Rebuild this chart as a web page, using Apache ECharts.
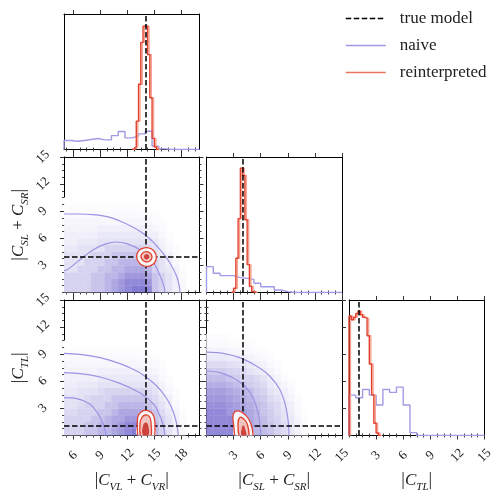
<!DOCTYPE html>
<html><head><meta charset="utf-8">
<script src="https://cdn.jsdelivr.net/npm/echarts@6/dist/echarts.min.js"></script>
<style>html,body{margin:0;padding:0;background:#fff}#c{width:495px;height:492px}</style>
</head><body><div id="c"></div><script>
// ---------------- DATA ----------------
const TRUE_CVL = 14, TRUE_CSL = 4, TRUE_CTL = 1.1;
const X_RANGE_CVL = [5, 20], X_RANGE_CSL = [0, 15], X_RANGE_CTL = [0, 15];
const TICKS_CVL = [6, 9, 12, 15, 18];
const TICKS_CSL = [3, 6, 9, 12, 15];
const TICKS_CTL = [3, 6, 9, 12, 15];
const HIST_MAX = 110;

// 1D histograms (bin start, bin width, heights)
const naiveCVL_start = 5, naiveCVL_w = 0.75;
const naiveCVL = [7.3,6.7,7.3,8.1,8.9,7.8,7.8,11.3,14.6,9.4,10.8,12.7,14.8,2.7,0.5,0,0,0,0,0];
const reintCVL_start = 12.5, reintCVL_w = 0.25;
const reintCVL = [0.5,2,23,53,87,100,100,77,42,9,2,0];

const naiveCSL_start = 0, naiveCSL_w = 0.75;
const naiveCSL = [21,15.6,13.7,13.7,12.1,11.5,10.7,7.5,4.7,4.7,2,0.7,0,0,0,0,0,0,0,0];
const reintCSL_start = 2.75, reintCSL_w = 0.25;
const reintCSL = [0.7,3.4,27.8,60,101,95,59,22.6,5,0.7,0];

const naiveCTL_start = 0, naiveCTL_w = 0.75;
const naiveCTL = [32.8,30.7,37.4,32.8,24.7,37.4,35,39.3,24.7,2.3,0,0,0,0,0,0,0,0,0,0];
const reintCTL_start = 0, reintCTL_w = 0.25;
const reintCTL = [97,94,96,99,101,98,96,95,81,58,33,10,2,0];

// 2D naive density (rows from bottom, bins of 0.75)
const densA_w = 0.75; // CVL (x from 5) vs CSL (y from 0)
const densA = [
 [3,3,3,3,4,4,5,6,7,8,9,9,8,4,3,2,1,0.5,0,0],
 [3,3,3,3,4,4,5,6,7,8,8,8,7,4,3,2,1,0.5,0,0],
 [3,3,3,3,4,4,5,5,6,7,7,7,6,4,3,2,1,0.3,0,0],
 [2,2,3,3,3,4,4,5,5,6,6,6,5,3,2,1.5,0.8,0.2,0,0],
 [2,2,2,3,3,3,4,4,5,5,5,5,4,3,2,1,0.5,0,0,0],
 [2,2,2,2,3,3,3,4,4,4,4,4,3,2,1.5,1,0.3,0,0,0],
 [1.5,1.5,2,2,2,2,3,3,3,3,3,3,2.5,2,1,0.5,0.2,0,0,0],
 [1,1,1.5,1.5,1.5,2,2,2,2,2,2,2,2,1.5,0.8,0.3,0,0,0,0],
 [1,1,1,1,1,1.5,1.5,1.5,1.5,1.5,1.5,1.5,1,1,0.5,0.2,0,0,0,0],
 [0.8,0.8,0.8,0.8,0.8,1,1,1,1,1,1,1,0.8,0.6,0.3,0,0,0,0,0],
 [0.6,0.6,0.6,0.6,0.6,0.6,0.6,0.6,0.6,0.6,0.6,0.6,0.5,0.3,0.2,0,0,0,0,0],
 [0.4,0.4,0.4,0.4,0.4,0.4,0.4,0.4,0.4,0.4,0.4,0.3,0.3,0.2,0,0,0,0,0,0],
 [0.2,0.2,0.2,0.2,0.2,0.2,0.2,0.2,0.2,0.2,0.2,0.2,0.1,0.1,0,0,0,0,0,0],
 [0.1,0.1,0.1,0.1,0.1,0.1,0.1,0.1,0.1,0.1,0.1,0.1,0,0,0,0,0,0,0,0]
];
const densB = [ // CVL (x from 5) vs CTL (y from 0)
 [3,3,3,4,4,5,5,6,7,8,9,9,8,5,3,2,1,0.5,0,0],
 [3,3,3,4,4,5,5,6,7,8,8,8,7,5,3,2,1,0.5,0,0],
 [3,3,3,3,4,4,5,6,6,7,7,7,6,4,3,2,1,0.3,0,0],
 [2.5,2.5,3,3,3,4,4,5,6,6,6,6,5,4,2.5,1.5,0.8,0.2,0,0],
 [2,2,2.5,3,3,3,4,4,5,5,5,5,4,3,2,1,0.5,0,0,0],
 [2,2,2,2.5,3,3,3,4,4,4,4,4,3,2.5,1.5,1,0.3,0,0,0],
 [1.5,1.5,2,2,2,2.5,3,3,3,3,3,3,2.5,2,1,0.5,0.2,0,0,0],
 [1.2,1.2,1.5,1.5,1.5,2,2,2,2,2,2,2,2,1.5,0.8,0.3,0,0,0,0],
 [1,1,1,1,1,1.5,1.5,1.5,1.5,1.5,1.5,1.5,1,1,0.5,0.2,0,0,0,0],
 [0.8,0.8,0.8,0.8,0.8,1,1,1,1,1,1,1,0.8,0.6,0.3,0,0,0,0,0],
 [0.6,0.6,0.6,0.6,0.6,0.6,0.6,0.6,0.6,0.6,0.6,0.6,0.5,0.3,0.2,0,0,0,0,0],
 [0.4,0.4,0.4,0.4,0.4,0.4,0.4,0.4,0.4,0.4,0.4,0.3,0.3,0.2,0,0,0,0,0,0],
 [0.2,0.2,0.2,0.2,0.2,0.2,0.2,0.2,0.2,0.2,0.2,0.2,0.1,0.1,0,0,0,0,0,0],
 [0.1,0.1,0.1,0.1,0.1,0.1,0.1,0.1,0.1,0.1,0.1,0.1,0,0,0,0,0,0,0,0]
];
const densC = [ // CSL (x from 0) vs CTL (y from 0)
 [8,8,8,8,7,7,6,5,4.5,4,3,2.5,1.5,0.8,0.3,0,0,0,0,0],
 [8,8,8,8,7,7,6,5,4.5,4,3,2.5,1.5,0.8,0.3,0,0,0,0,0],
 [8,8,8,8,7,7,6,5,4.5,3.5,3,2,1.5,0.7,0.2,0,0,0,0,0],
 [8,8,8,7,7,6.5,6,5,4,3.5,2.5,2,1.2,0.5,0.1,0,0,0,0,0],
 [7.5,7.5,7.5,7,6.5,6,5.5,4.5,4,3,2.5,1.5,1,0.4,0,0,0,0,0,0],
 [7,7,7,6.5,6,5.5,5,4,3.5,2.5,2,1.2,0.7,0.2,0,0,0,0,0,0],
 [6.5,6.5,6.5,6,5.5,5,4.5,3.5,3,2,1.5,1,0.5,0.1,0,0,0,0,0,0],
 [5.5,5.5,5.5,5,4.5,4,3.5,3,2.5,1.5,1,0.6,0.2,0,0,0,0,0,0,0],
 [4.5,4.5,4.5,4,3.5,3,3,2.5,2,1.2,0.7,0.3,0.1,0,0,0,0,0,0,0],
 [3.5,3.5,3.5,3,2.8,2.5,2,1.5,1.2,0.8,0.4,0.1,0,0,0,0,0,0,0,0],
 [2.5,2.5,2.5,2.2,2,1.8,1.5,1,0.8,0.4,0.2,0,0,0,0,0,0,0,0,0],
 [1.5,1.5,1.5,1.3,1.2,1,0.8,0.6,0.4,0.2,0,0,0,0,0,0,0,0,0,0],
 [0.8,0.8,0.8,0.7,0.6,0.5,0.4,0.3,0.2,0.1,0,0,0,0,0,0,0,0,0,0],
 [0.4,0.4,0.4,0.3,0.3,0.2,0.2,0.1,0,0,0,0,0,0,0,0,0,0,0,0],
 [0.2,0.2,0.2,0.1,0.1,0.1,0,0,0,0,0,0,0,0,0,0,0,0,0,0]
];

// naive contour lines (x, y)
const naiveContA = [
 [[5,8.69],[6.4,8.69],[8.25,8.62],[10.09,8.32],[11.94,7.58],[13.41,6.77],[14.52,5.92],[15.63,4.74],[16.73,3.27],[17.47,1.79],[17.77,0.68],[17.84,0]],
 [[5,2.45],[5.37,2.53],[6.77,3.63],[8.25,4.74],[9.72,5.41],[10.83,5.59],[11.94,5.41],[13.41,4.74],[14.52,3.81],[15.26,2.71],[15.81,1.42],[16.07,0.68],[16.18,0]]
];
const naiveContB = [
 [[5,9.1],[6.77,8.99],[8.99,8.62],[11.2,7.95],[13.04,7.14],[14.08,6.48],[15.26,5.48],[16.18,4.37],[16.92,3.08],[17.4,1.61],[17.66,0]],
 [[5,6.96],[6.77,6.85],[8.99,6.48],[11.2,5.77],[13.04,4.93],[14.15,4.19],[15.07,3.27],[15.63,2.16],[16.0,1.05],[16.18,0]],
 [[5,4.19],[6.4,4.08],[7.88,3.45],[8.8,2.34],[9.35,1.23],[9.65,0]]
];
const naiveContC = [
 [[0,9.24],[1.83,9.1],[3.67,8.62],[5.52,7.69],[6.99,6.59],[8.1,5.11],[8.76,3.26],[9.06,1.42],[9.13,0]],
 [[0,7.14],[1.46,6.96],[2.93,6.4],[4.22,5.48],[5.15,4.19],[5.7,2.53],[5.96,1.05],[6.0,0]]
];

// reinterpreted contours (outer, inner, core)
const reintContA = [
 [[13.04,3.93],[13.22,4.56],[13.71,4.89],[14.22,4.96],[14.82,4.74],[15.18,4.19],[15.18,3.63],[14.89,3.15],[14.34,2.9],[13.78,2.97],[13.34,3.27]],
 [[13.52,4.0],[13.71,4.37],[14.08,4.52],[14.52,4.37],[14.74,4.0],[14.59,3.56],[14.22,3.38],[13.78,3.52]],
 [[13.85,3.95],[14.0,4.2],[14.3,4.22],[14.45,3.95],[14.3,3.7],[14.0,3.72]]
];
const reintContB = [
 [[13.15,0],[13.12,1.42],[13.23,2.23],[13.6,2.64],[14.08,2.79],[14.59,2.6],[14.96,2.09],[15.07,1.05],[15.04,0]],
 [[13.45,0],[13.41,1.24],[13.6,1.97],[14.0,2.27],[14.45,2.09],[14.63,1.42],[14.67,0]],
 [[13.75,0],[13.75,1.1],[14.08,1.45],[14.33,1.1],[14.33,0]]
];
const reintContC = [
 [[3.12,0],[3.01,1.05],[2.93,2.16],[3.12,2.6],[3.6,2.71],[4.23,2.34],[4.78,1.61],[5.07,0.68],[5.15,0]],
 [[3.6,0],[3.49,1.24],[3.67,1.97],[4.11,1.86],[4.52,1.24],[4.71,0]],
 [[3.9,0],[3.9,0.8],[4.11,1.1],[4.3,0.65],[4.38,0]]
];

const LEGEND_NAMES = ['true model', 'naive', 'reinterpreted'];

// ---------------- STYLE / LAYOUT ----------------
const COL_X = [64, 206.5, 349], ROW_Y = [14, 157, 300], SIZE = 135.5;
const FONT = 'Liberation Serif';
const NAIVE_LINE = '#9a95e3', NAIVE_HIST = '#a09be6';
const RED = '#e2412d', RED_LIGHT = '#f5a394';
const CELLS = [
  {r:0,c:0},{r:1,c:0},{r:1,c:1},{r:2,c:0},{r:2,c:1},{r:2,c:2}
];
const X_RANGES = [X_RANGE_CVL, X_RANGE_CSL, X_RANGE_CTL];
const X_TICKS = [TICKS_CVL, TICKS_CSL, TICKS_CTL];
const Y_RANGES = [null, X_RANGE_CSL, X_RANGE_CTL];
const Y_TICKS = [null, TICKS_CSL, TICKS_CTL];

function minorOf(majors, lo, hi) {
  const step = (majors[1] - majors[0]) / 4, out = [];
  for (let k = Math.ceil(lo / step - 1e-9); k * step <= hi + 1e-9; k++) {
    const v = +(k * step).toFixed(6);
    if (!majors.some(m => Math.abs(m - v) < 1e-6)) out.push(v);
  }
  return out;
}
function sub(a, b) { return '{c|C}{s|' + a + '}' + (b ? '{o| + }{c|C}{s|' + b + '}' : ''); }
const NAMES = ['{a||}' + sub('VL','VR') + '{a||}', '{a||}' + sub('SL','SR') + '{a||}', '{a||}' + sub('TL') + '{a||}'];
const nameStyle = {
  fontFamily: FONT, fontSize: 17, color: '#222',
  rich: {
    a: {fontFamily: FONT, fontSize: 18, color: '#222', padding: [0,0,3,0]},
    c: {fontFamily: FONT, fontSize: 17, fontStyle: 'italic', color: '#222', padding: [0,0,3,0]},
    o: {fontFamily: FONT, fontSize: 17, color: '#222', padding: [0,0,3,0]},
    s: {fontFamily: FONT, fontSize: 11, fontStyle: 'italic', color: '#222', verticalAlign: 'bottom'}
  }
};

const xAxis = [], yAxis = [];
CELLS.forEach((cell, g) => {
  const isHist = cell.r === cell.c;
  const xr = X_RANGES[cell.c], xt = X_TICKS[cell.c], xm = minorOf(xt, xr[0], xr[1]);
  const showXLab = cell.r === 2;
  const base = {type: 'value', gridIndex: g, min: xr[0], max: xr[1], splitLine: {show: false}};
  const line = {show: true, onZero: false, lineStyle: {color: '#000', width: 1}};
  xAxis.push(Object.assign({}, base, {position: 'bottom', axisLine: line,
    axisTick: {show: true, customValues: xt, length: 4, lineStyle: {color: '#333'}},
    axisLabel: {show: showXLab, customValues: xt, rotate: 45, align: 'center', verticalAlign: 'middle', margin: 20,
      fontFamily: FONT, fontSize: 13, color: '#222', formatter: v => String(v)},
    name: showXLab ? NAMES[cell.c] : '', nameLocation: 'middle', nameGap: 36, nameTextStyle: nameStyle}));
  xAxis.push(Object.assign({}, base, {position: 'top', axisLine: line,
    axisTick: {show: true, customValues: xt, length: 4, lineStyle: {color: '#333'}}, axisLabel: {show: false}}));
  xAxis.push(Object.assign({}, base, {position: 'bottom', axisLine: {show: false},
    axisTick: {show: true, customValues: xm, length: 2, lineStyle: {color: '#444'}}, axisLabel: {show: false}}));
  xAxis.push(Object.assign({}, base, {position: 'top', axisLine: {show: false},
    axisTick: {show: true, customValues: xm, length: 2, lineStyle: {color: '#444'}}, axisLabel: {show: false}}));

  if (isHist) {
    const yb = {type: 'value', gridIndex: g, min: 0, max: HIST_MAX, splitLine: {show: false}, axisTick: {show: false}, axisLabel: {show: false}};
    yAxis.push(Object.assign({}, yb, {position: 'left', axisLine: line}));
    yAxis.push(Object.assign({}, yb, {position: 'right', axisLine: line}));
    yAxis.push(Object.assign({}, yb, {position: 'left', show: false}));
    yAxis.push(Object.assign({}, yb, {position: 'right', show: false}));
  } else {
    const yr = Y_RANGES[cell.r], yt = Y_TICKS[cell.r], ym = minorOf(yt, yr[0], yr[1]);
    const showY = cell.c === 0;
    const yb = {type: 'value', gridIndex: g, min: yr[0], max: yr[1], splitLine: {show: false}};
    yAxis.push(Object.assign({}, yb, {position: 'left', axisLine: line,
      axisTick: {show: true, customValues: yt, length: 4, lineStyle: {color: '#333'}},
      axisLabel: {show: showY, customValues: yt, rotate: 45, align: 'center', verticalAlign: 'middle', margin: 21,
        fontFamily: FONT, fontSize: 13, color: '#222', formatter: v => String(v)},
      name: showY ? NAMES[cell.r] : '', nameLocation: 'middle', nameGap: 33, nameRotate: 90, nameTextStyle: nameStyle}));
    yAxis.push(Object.assign({}, yb, {position: 'right', axisLine: line,
      axisTick: {show: true, customValues: yt, length: 4, lineStyle: {color: '#333'}}, axisLabel: {show: false}}));
    yAxis.push(Object.assign({}, yb, {position: 'left', axisLine: {show: false},
      axisTick: {show: true, customValues: ym, length: 2, lineStyle: {color: '#444'}}, axisLabel: {show: false}}));
    yAxis.push(Object.assign({}, yb, {position: 'right', axisLine: {show: false},
      axisTick: {show: true, customValues: ym, length: 2, lineStyle: {color: '#444'}}, axisLabel: {show: false}}));
  }
});

function stepPts(start, w, vals) {
  const pts = [[start, 0]];
  vals.forEach((v, k) => pts.push([+(start + k * w).toFixed(4), v]));
  pts.push([+(start + vals.length * w).toFixed(4), 0]);
  return pts;
}
function histSeries(g, name, start, w, vals, color, extra) {
  return {type: 'line', name, xAxisIndex: 4 * g, yAxisIndex: 4 * g, data: stepPts(start, w, vals),
    step: 'end', symbol: 'none', showSymbol: false, clip: true, z: 4,
    itemStyle: {color}, lineStyle: Object.assign({color, width: 1.4}, extra || {})};
}
function densColor(v) {
  const t = Math.min(v / 10, 1);
  const r = Math.round(255 - t * (255 - 118)), gg = Math.round(255 - t * (255 - 108)), b = Math.round(255 - t * (255 - 206));
  return 'rgb(' + r + ',' + gg + ',' + b + ')';
}
function densSeries(g, rows, x0, y0, w) {
  const data = [];
  rows.forEach((row, j) => row.forEach((v, i) => { if (v > 0) data.push([x0 + i * w, y0 + j * w, v]); }));
  return {type: 'custom', name: 'naive density', xAxisIndex: 4 * g, yAxisIndex: 4 * g, data, z: 1, silent: true, clip: true,
    renderItem(params, api) {
      const x = api.value(0), y = api.value(1), v = api.value(2);
      const p1 = api.coord([x, y + w]), p2 = api.coord([x + w, y]);
      const col = densColor(v);
      return {type: 'rect', shape: {x: p1[0], y: p1[1], width: p2[0] - p1[0], height: p2[1] - p1[1]},
        style: {fill: col, stroke: col, lineWidth: 0.4}};
    }};
}
function contourLines(g, lines) {
  return lines.map(pts => ({type: 'line', name: 'naive', xAxisIndex: 4 * g, yAxisIndex: 4 * g, data: pts,
    smooth: 0.35, symbol: 'none', clip: true, z: 3, lineStyle: {color: NAIVE_LINE, width: 1.2}, itemStyle: {color: NAIVE_LINE}}));
}
const RED_FILLS = ['rgba(255,255,255,0.92)', 'rgba(236,120,105,0.4)', 'rgba(200,45,35,0.85)'];
function redContours(g, polys) {
  return {type: 'custom', name: 'reinterpreted', xAxisIndex: 4 * g, yAxisIndex: 4 * g, z: 5, silent: true, clip: true,
    data: polys.map((p, k) => [p[0][0], p[0][1], k]),
    renderItem(params, api) {
      const k = api.value(2);
      const raw = polys[k];
      const pts = raw.map(p => api.coord(p));
      const closed = raw[0][1] !== 0;
      const children = [{type: 'polygon', shape: {points: pts, smooth: 0.5},
        style: {fill: RED_FILLS[k], stroke: closed && k < 2 ? RED : null, lineWidth: 1.3}}];
      if (!closed && k < 2) children.push({type: 'polyline', shape: {points: pts, smooth: 0.5},
        style: {fill: null, stroke: RED, lineWidth: 1.3}});
      return {type: 'group', children};
    }};
}
function trueSeries(g, xv, yv) {
  const data = [];
  if (xv != null) data.push({xAxis: xv});
  if (yv != null) data.push({yAxis: yv});
  return {type: 'line', name: 'true model', xAxisIndex: 4 * g, yAxisIndex: 4 * g, data: [], symbol: 'none', z: 6,
    lineStyle: {color: '#000', width: 1.5, type: [5.5, 2.5]}, itemStyle: {color: '#000'},
    markLine: {silent: true, symbol: ['none', 'none'], label: {show: false}, animation: false,
      lineStyle: {color: '#000', width: 1.5, type: [5.5, 2.5]}, emphasis: {disabled: true}, data}};
}

const redShadow = {shadowColor: RED_LIGHT, shadowOffsetX: 1.5, shadowBlur: 0};
const series = [
  histSeries(0, 'naive', naiveCVL_start, naiveCVL_w, naiveCVL, NAIVE_HIST),
  histSeries(0, 'reinterpreted', reintCVL_start, reintCVL_w, reintCVL, RED, redShadow),
  histSeries(2, 'naive', naiveCSL_start, naiveCSL_w, naiveCSL, NAIVE_HIST),
  histSeries(2, 'reinterpreted', reintCSL_start, reintCSL_w, reintCSL, RED, redShadow),
  histSeries(5, 'naive', naiveCTL_start, naiveCTL_w, naiveCTL, NAIVE_HIST),
  histSeries(5, 'reinterpreted', reintCTL_start, reintCTL_w, reintCTL, RED, redShadow),
  densSeries(1, densA, X_RANGE_CVL[0], 0, densA_w),
  densSeries(3, densB, X_RANGE_CVL[0], 0, densA_w),
  densSeries(4, densC, X_RANGE_CSL[0], 0, densA_w),
  ...contourLines(1, naiveContA),
  ...contourLines(3, naiveContB),
  ...contourLines(4, naiveContC),
  redContours(1, reintContA),
  redContours(3, reintContB),
  redContours(4, reintContC),
  trueSeries(0, TRUE_CVL, null),
  trueSeries(1, TRUE_CVL, TRUE_CSL),
  trueSeries(2, TRUE_CSL, null),
  trueSeries(3, TRUE_CVL, TRUE_CTL),
  trueSeries(4, TRUE_CSL, TRUE_CTL),
  trueSeries(5, TRUE_CTL, null)
];

const HIDE_SYMBOL = {color: 'rgba(0,0,0,0)', borderColor: 'rgba(0,0,0,0)', borderWidth: 0, opacity: 0};
const chart = echarts.init(document.getElementById('c'), null, {renderer: 'canvas'});
chart.setOption({
  animation: false,
  backgroundColor: '#fff',
  grid: CELLS.map(cell => ({left: COL_X[cell.c], top: ROW_Y[cell.r], width: SIZE, height: SIZE, containLabel: false, outerBoundsMode: 'none'})),
  xAxis, yAxis,
  legend: {
    data: [
      {name: LEGEND_NAMES[0], lineStyle: {color: '#000', width: 1.5, type: [5.5, 2.5]}, itemStyle: HIDE_SYMBOL},
      {name: LEGEND_NAMES[1], lineStyle: {color: '#9b97e6', width: 1.5}, itemStyle: HIDE_SYMBOL},
      {name: LEGEND_NAMES[2], lineStyle: {color: '#ec7560', width: 1.5}, itemStyle: HIDE_SYMBOL}
    ],
    orient: 'vertical', left: 340, top: 5, itemWidth: 40, itemHeight: 16, itemGap: 10, selectedMode: false,
    textStyle: {fontFamily: FONT, fontSize: 17, color: '#222', padding: [0, 0, 0, 9]}
  },
  series
});
</script></body></html>
